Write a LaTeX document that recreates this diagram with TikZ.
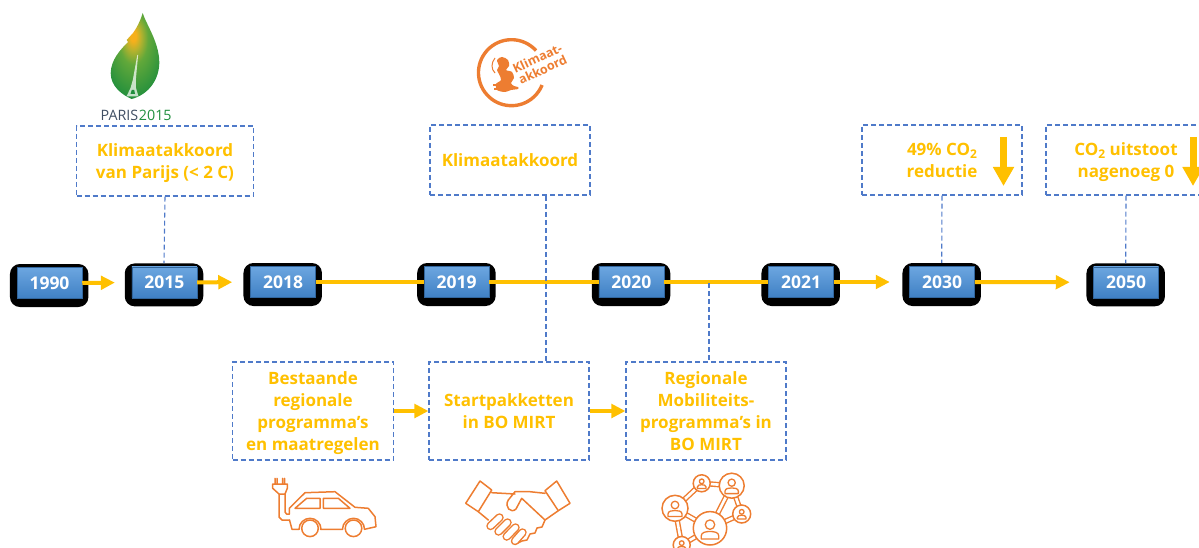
\documentclass[tikz,border=0pt]{standalone}
\usepackage{fontspec}
\setmainfont{Open Sans}
\usetikzlibrary{arrows.meta,calc}
\definecolor{gold}{HTML}{FFC000}
\definecolor{dashblue}{HTML}{4F7AC9}
\definecolor{orng}{HTML}{ED7D31}
\definecolor{blueT}{HTML}{6CA6E0}
\definecolor{blueB}{HTML}{3F80C4}
\definecolor{leafA}{HTML}{F6B01C}
\definecolor{leafB}{HTML}{B4B22E}
\definecolor{leafC}{HTML}{62A83A}
\definecolor{leafD}{HTML}{1F8E3D}
\definecolor{parisgray}{HTML}{3F4E63}
\pgfdeclareradialshading{leafshade}{\pgfpoint{-2bp}{12bp}}{color(0bp)=(leafA);color(3bp)=(leafA);color(8bp)=(leafB);color(15bp)=(leafC);color(34bp)=(leafD);color(100bp)=(leafD)}
\tikzset{
  yearback/.style={fill=black,rounded corners=10pt,minimum width=78.5pt,minimum height=43pt,inner sep=0pt},
  yearbox/.style={top color=blueT,bottom color=blueB,draw=blueB!80!black,line width=.5pt,minimum width=65pt,minimum height=31pt,inner sep=0pt,text=white,font=\fontsize{17.5}{20}\selectfont\bfseries},
  infobox/.style={draw=dashblue,line width=1.1pt,dash pattern=on 5pt off 3pt,align=center,text=gold,font=\fontsize{17}{22}\selectfont\bfseries,inner sep=0pt},
  link/.style={draw=dashblue,line width=1.1pt,dash pattern=on 5pt off 3pt},
  goldarrow/.style={draw=gold,line width=4pt,-{Triangle[length=14pt,width=13.5pt]}},
  goldline/.style={draw=gold,line width=4pt},
  downarrow/.style={draw=gold,line width=7pt,-{Triangle[length=19pt,width=20pt]}},
  icon/.style={draw=orng,line width=1.5pt,line join=round,line cap=round},
  band/.style={draw=orng,line width=1.4pt,double=white,double distance=2.6pt,line cap=round},
  finger/.style={draw=orng,line width=1.5pt,double=white,double distance=5.5pt,line cap=round},
  netnode/.style={draw=orng,line width=1.5pt,fill=white}
}
\newcommand{\yearnode}[3]{%
  \node[yearback] (b#1) at (#2-0.3,#3+2.5) {};
  \node[yearbox] (y#1) at (#2,#3) {#1};}
\newcommand{\cotwo}{CO\raisebox{-3.5pt}{\fontsize{12}{12}\selectfont 2}}
% first and last line struts that keep the text block at a fixed height in its box
\newcommand{\topl}{\rule{0pt}{18pt}}
\newcommand{\botl}{\rule[-5pt]{0pt}{5pt}}
\newcommand{\netperson}[3]{%
  \begin{scope}[shift={(#1,#2)},scale=#3]
    \draw[icon,line width=1.3pt] (0,-3.5) circle (3.8);
    \draw[icon,line width=1.3pt] (-7,8) -- (-7,5.5) .. controls (-7,2.5) and (-3,2) .. (0,2) .. controls (3,2) and (7,2.5) .. (7,5.5) -- (7,8) -- cycle;
  \end{scope}}
\begin{document}
\begin{tikzpicture}[x=1pt,y=-1pt]
\useasboundingbox (0,0) rectangle (1199,548);
% boxes
\node[infobox,minimum width=177pt,minimum height=70pt] (bParijs) at (165,161) {\topl Klimaatakkoord\\van Parijs (< 2 C)\botl};
\node[infobox,minimum width=160pt,minimum height=70pt] (bKlim) at (510,160) {\topl Klimaatakkoord\botl};
\node[infobox,minimum width=160pt,minimum height=70pt] (b49) at (942,160) {\topl 49\% \cotwo\\reductie\botl};
\node[infobox,minimum width=160pt,minimum height=70pt] (bCO) at (1126,160) {\topl\cotwo{} uitstoot\\nagenoeg 0\botl};
\node[infobox,minimum width=161pt,minimum height=98pt] (bBest) at (313,411) {\topl Bestaande\\regionale\\programma’s\\en maatregelen\botl};
\node[infobox,minimum width=160pt,minimum height=98pt] (bStart) at (509,411) {\topl Startpakketten\\in BO MIRT\botl};
\node[infobox,minimum width=160pt,minimum height=98pt] (bReg) at (706,411) {\topl Regionale\\Mobiliteits-\\programma’s in\\BO MIRT\botl};
% timeline
\yearnode{1990}{49.5}{283}
\yearnode{2015}{164.3}{282.4}
\yearnode{2018}{283}{282}
\yearnode{2019}{456.7}{282}
\yearnode{2020}{631.3}{282}
\yearnode{2021}{801}{282}
\yearnode{2030}{942}{282}
\yearnode{2050}{1126}{282.3}
\draw[goldarrow,shorten >=16.7pt] (y1990.east) -- (y2015.west);
\draw[goldarrow,shorten >=18pt] (y2015.east) -- (y2018.west);
\draw[goldline] (y2018.east) -- (y2019.west);
\draw[goldline] (y2019.east) -- (y2020.west);
\draw[goldline] (y2020.east) -- (y2021.west);
\draw[goldarrow,shorten >=19.5pt] (y2021.east) -- (y2030.west);
\draw[goldarrow,shorten >=23.5pt] (y2030.east) -- (y2050.west);
% links
\draw[link] (bParijs.south) -- (b2015.north);
\coordinate (kl) at (546,196);
\draw[link] (kl) -- (kl |- bStart.north);
\coordinate (mj) at (709,283);
\draw[link] (mj) -- (mj |- bReg.north);
\draw[link] (b49.south) -- (b2030.north);
\draw[link] (bCO.south) -- (b2050.north);
% process arrows
\draw[goldarrow] (bBest.east) -- (bStart.west);
\draw[goldarrow] (bStart.east) -- (bReg.west);
% down arrows
\coordinate (d1a) at (1003.5,137); \coordinate (d1b) at (1003.5,186);
\draw[downarrow] (d1a) -- (d1b);
\coordinate (d2a) at (1193,137); \coordinate (d2b) at (1193,186);
\draw[downarrow] (d2a) -- (d2b);
% Paris leaf
\path[shading=leafshade]
 (142.7,13) .. controls (146,24) and (159,42) .. (159.3,62) .. controls (159.5,78) and (150,94) .. (131.7,99)
 .. controls (122,95) and (110.5,86) .. (110.7,73) .. controls (111,60) and (120,50) .. (128,42)
 -- (126.7,40) -- (133,33) .. controls (136,29) and (140,22) .. (142.7,13) -- cycle;
\fill[white,opacity=.72] (137.3,55) -- (138.1,55) -- (135.8,80) -- (136,88) -- (138.5,96.5) -- (126.5,96.5) -- (130.5,88) -- (132.8,80) -- cycle;
\fill[leafD] (130.5,94) -- (131.8,90) -- (134.2,90) -- (135,94) -- cycle;
\node[text=parisgray,font=\fontsize{14.3}{16}\selectfont,inner sep=0pt,anchor=east] at (138.5,115.5) {PARIS};
\node[text=leafD,font=\fontsize{14.3}{16}\selectfont,inner sep=0pt,anchor=west] at (138.7,115.5) {2015};
% Klimaat logo
\draw[orng,line width=3.4pt] (536,50.6) arc[start angle=-42,end angle=-338,radius=33];
\fill[orng,smooth] plot[smooth cycle,tension=.55] coordinates {(497,60) (502,57) (508,60) (509,66) (506,70) (512,72) (514,78) (511,83) (514,86) (518,87) (518,89) (511,90) (505,92) (497,90) (496,84) (501,80) (499,74) (497,70) (499,66)};
\draw[orng,line width=1pt] (495,58) .. controls (491,63) and (491,69) .. (495,73);
\draw[orng,line width=1.4pt] (493,85) -- (497,85) (494,89) -- (498,89);
\node[text=orng,rotate=25,font=\fontsize{12.5}{12.5}\selectfont\bfseries,align=center,inner sep=0pt] at (540,64) {Klimaat-\\akkoord};
% car
\draw[icon] (275,478.3) -- (275,484) (277,478.3) -- (277,484) (282.5,478.3) -- (282.5,484) (284.5,478.3) -- (284.5,484)
  (272.7,484) -- (287.3,484) -- (287.3,488.3) -- (285,494) -- (279,494) -- (272.7,488.3) -- cycle
  (279,494) -- (279,517) -- (282,520) -- (289.5,520)
  (285,494) -- (285,512) -- (286.5,514) -- (289.3,514);
\draw[icon] (289.3,514) -- (289.3,508.3) -- (305,492.7) -- (335,491.7) -- (355,507.3) -- (368.3,508.3) -- (375,516.7) -- (376,526.7) -- (364.5,529.3)
  (342.5,529.3) -- (320.5,529.3) (299,529.3) -- (292,529.3) -- (289.5,520);
\draw[icon] (299,529.3) arc[start angle=180,end angle=360,radius=11];
\draw[icon] (342.5,529.3) arc[start angle=180,end angle=360,radius=11];
\draw[icon] (295,508.3) -- (306.7,498.3) -- (320,498.3) -- (320,508.3) -- cycle
  (323.3,498.3) -- (338.3,498.3) -- (350,508.3) -- (323.3,508.3) -- cycle;
\draw[icon] (310,528.3) circle (8.3) (353.5,528.3) circle (8.3);
% handshake
\draw[icon] (465.7,503.3) -- (480,481) -- (491.7,490) -- (478.3,511.7) -- cycle
  (545,490.7) -- (556.7,481) -- (570,503.3) -- (558.3,510.7) -- cycle;
\draw[icon] (491.7,492.7) -- (515,494)
  (545,493.3) -- (528,491.5) -- (515,491.7) -- (508.3,500) .. controls (504,507) and (511,514) .. (516,509) -- (521.7,498.3) -- (545,520)
  (478.3,511.7) -- (488.3,520)
  (558.3,510.7) -- (545,520) -- (542,527) -- (537,528) -- (535,533) -- (530,534) -- (527,540) -- (522,541) -- (517,543.5);
\draw[finger] (490.5,526) -- (499.5,517.5);
\draw[finger] (498.5,531.5) -- (507.5,522.5);
\draw[finger] (506.7,536.5) -- (515.5,527.5);
\draw[finger] (515,541) -- (522.5,532.5);
% network
\coordinate (nA) at (675,508.3); \coordinate (nB) at (701.7,483.3); \coordinate (nC) at (731.7,485.7);
\coordinate (nD) at (741.7,514); \coordinate (nE) at (710,528.3); \coordinate (nF) at (681.7,545);
\draw[band] (nA) -- (nB);
\draw[band] (nB) -- (nC);
\draw[band] (nC) -- (nE);
\draw[band] (nC) -- (nD);
\draw[band] (nD) -- (nE);
\draw[band] (nA) -- (nE);
\draw[band] (nA) -- (nF);
\draw[band] (nF) -- (nE);
\path[netnode] (nA) circle (13);
\path[netnode] (nB) circle (8.5);
\path[netnode] (nC) circle (12.5);
\path[netnode] (nD) circle (9);
\path[netnode] (nE) circle (16.7);
\path[netnode] (nF) circle (8.5);
\netperson{675}{508.5}{1}
\netperson{701.7}{483.5}{.62}
\netperson{731.7}{486}{.95}
\netperson{741.7}{514}{.62}
\netperson{710}{529}{1.25}
\netperson{681.7}{545.3}{.62}
\end{tikzpicture}
\end{document}
